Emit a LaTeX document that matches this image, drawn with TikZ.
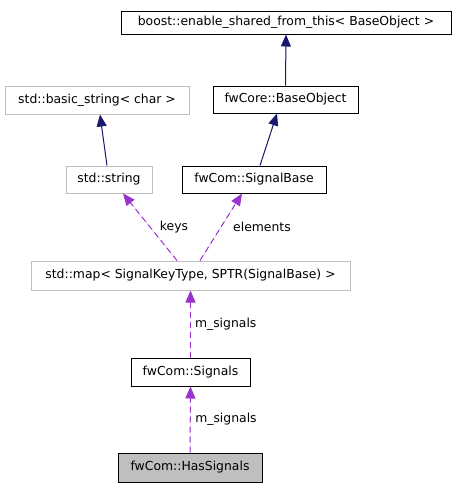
\documentclass[tikz,border=0pt]{standalone}
\usepackage{fontspec}
\setmainfont{DejaVu Sans}
\usetikzlibrary{arrows.meta}
\definecolor{navyarrow}{HTML}{191970}
\definecolor{orchid}{HTML}{9A32CD}
\definecolor{graybox}{HTML}{BFBFBF}
\tikzset{
  x=1pt,y=-1pt,
  box/.style={draw=black,line width=1pt,inner sep=0pt,fill=white,font=\fontsize{12.4}{14}\selectfont},
  greybox/.style={box,draw=graybox},
  inherit/.style={draw=navyarrow,line width=1pt,-{Triangle[length=12pt,width=10pt]},fill=navyarrow},
  usage/.style={draw=orchid,line width=1pt,dash pattern=on 6pt off 4pt,-{Triangle[length=12pt,width=10pt]},fill=orchid},
  lbl/.style={font=\fontsize{12.4}{14}\selectfont,inner sep=0pt}
}
\begin{document}
\begin{tikzpicture}
\useasboundingbox (0,0) rectangle (457,488);
\node[box,minimum width=330pt,minimum height=23pt] (boost) at (286,22.5) {boost::enable\_shared\_from\_this< BaseObject >};
\node[box,minimum width=145pt,minimum height=27pt] (base) at (285.5,99.5) {fwCore::BaseObject};
\node[greybox,minimum width=184pt,minimum height=28pt] (bstr) at (97,100) {std::basic\_string< char >};
\node[greybox,minimum width=86pt,minimum height=27pt] (str) at (109,179.5) {std::string};
\node[box,minimum width=144pt,minimum height=27pt] (sigbase) at (254,179.5) {fwCom::SignalBase};
\node[greybox,minimum width=319pt,minimum height=29pt] (map) at (190.5,275.5) {std::map< SignalKeyType, SPTR(SignalBase) >};
\node[box,minimum width=119pt,minimum height=28pt] (sig) at (190.5,372) {fwCom::Signals};
\node[box,fill=graybox,minimum width=144pt,minimum height=29pt] (has) at (190,467.5) {fwCom::HasSignals};

\draw[inherit] (base.north) -- (boost.south);
\draw[inherit] ([xshift=-2pt]str.north) -- ([xshift=3pt]bstr.south);
\draw[inherit] ([xshift=6pt]sigbase.north) -- ([xshift=-8.5pt]base.south);
\draw[usage] ([xshift=-13.5pt]map.north) -- node[lbl,pos=0.5,xshift=24pt] (lkeys) {keys} ([xshift=14pt]str.south);
\draw[usage] ([xshift=9.5pt]map.north) -- node[lbl,pos=0.5,xshift=41pt] (lelem) {elements} ([xshift=-12pt]sigbase.south);
\draw[usage] (sig.north) -- node[lbl,pos=0.5,anchor=west,xshift=4pt] (lm1) {m\_signals} (map.south);
\draw[usage] (has.north) -- node[lbl,pos=0.5,anchor=west,xshift=4.5pt] (lm2) {m\_signals} (sig.south);
\end{tikzpicture}
\end{document}
